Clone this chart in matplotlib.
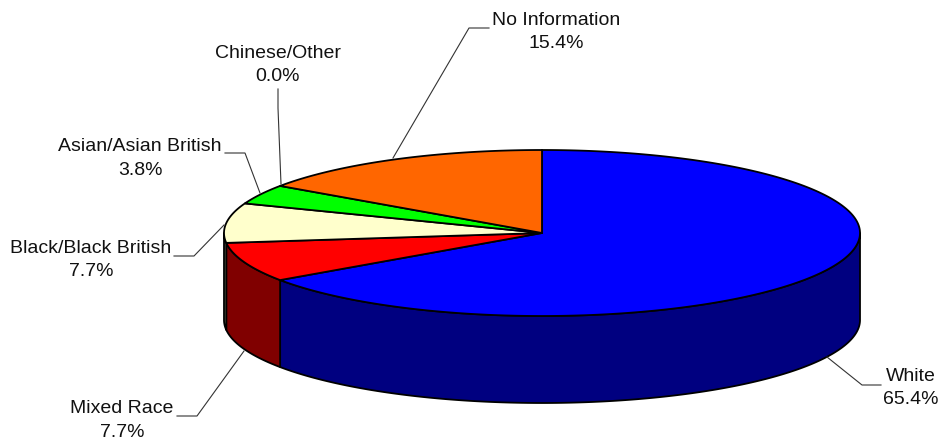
import matplotlib
matplotlib.use("Agg")
import matplotlib.pyplot as plt
import numpy as np

plt.rcParams['font.family'] = ['Liberation Sans', 'DejaVu Sans']

# Data
labels = ["White", "Mixed Race", "Black/Black British", "Asian/Asian British", "Chinese/Other", "No Information"]
shares = [65.4, 7.7, 7.7, 3.8, 0.0, 15.4]
top_colors = ["#0000FF", "#FF0000", "#FFFFCC", "#00FF00", "#00FFFF", "#FF6600"]
side_colors = ["#000080", "#800000", "#808066", "#008000", "#008080", "#803300"]

# pie geometry, in pixels
cx, cy = 542, 233
rx, ry = 318, 83
depth = 87

# label centres and leader lines, in pixels
label_pos = [(911, 388), (122, 420.5), (91, 260), (140, 158.5), (278, 65), (556, 32)]
leaders = [
    [(827, 357), (862, 385), (881, 385)],
    [(244, 351), (197, 416), (177, 416)],
    [(224, 225), (194, 256), (174, 256)],
    [(260, 193), (245, 153), (225, 153)],
    [(281, 184), (278, 108), (278, 89)],
    [(393, 158), (469, 28), (489, 28)],
]


def rim(a0, a1, dy=0.0):
    # a is in degrees clockwise from 12 o'clock
    a = np.radians(np.linspace(a0, a1, max(int(abs(a1 - a0)) * 2, 2)))
    return cx + rx * np.sin(a), cy - ry * np.cos(a) + dy


fig = plt.figure(figsize=(9.43, 4.43), dpi=100)
ax = fig.add_axes([0, 0, 1, 1])
ax.set_xlim(0, 943)
ax.set_ylim(443, 0)
ax.axis('off')

edges = np.cumsum([0] + shares)
total = edges[-1]
angles = edges / total * 360

# side wall, only the front half of the rim shows
for i in range(len(shares)):
    a0, a1 = max(angles[i], 90), min(angles[i + 1], 270)
    if a1 <= a0:
        continue
    x0, y0 = rim(a0, a1)
    x1, y1 = rim(a1, a0, depth)
    ax.fill(np.r_[x0, x1], np.r_[y0, y1], facecolor=side_colors[i], edgecolor='black', lw=1.3, joinstyle='round')

# top face
for i in range(len(shares)):
    if shares[i] == 0:
        continue
    x, y = rim(angles[i], angles[i + 1])
    ax.fill(np.r_[cx, x], np.r_[cy, y], facecolor=top_colors[i], edgecolor='black', lw=1.3, joinstyle='round')

# labels
for i in range(len(labels)):
    xs, ys = zip(*leaders[i])
    ax.plot(xs, ys, color='#333333', lw=0.8)
    ax.text(label_pos[i][0], label_pos[i][1], f"{labels[i]}\n{shares[i]:.1f}%", ha='center', va='center',
            fontsize=14, color='#111111', linespacing=1.5)

fig.savefig("out.png", dpi=100)
